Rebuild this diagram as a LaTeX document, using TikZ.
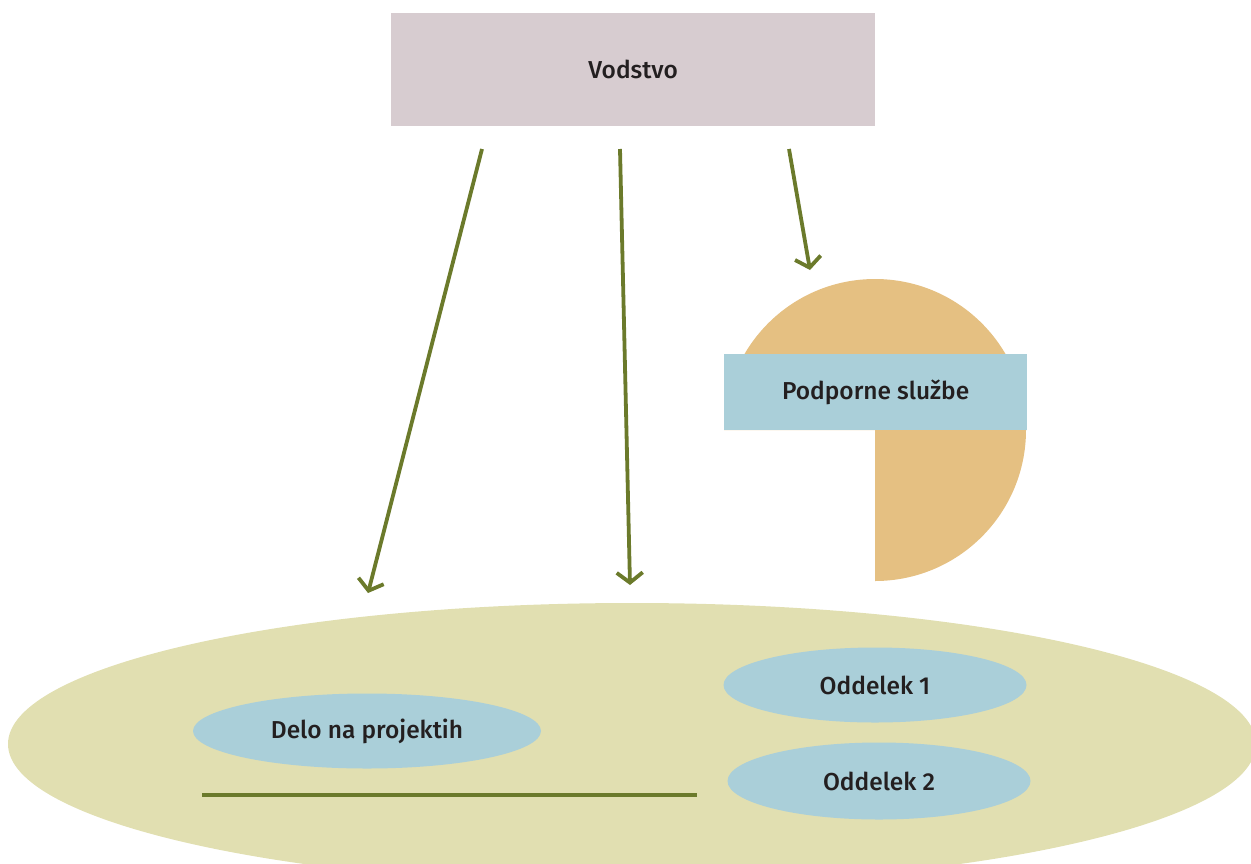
\documentclass[tikz,border=0pt]{standalone}
\usepackage{fontspec}
\setmainfont{Fira Sans}[UprightFont={* Medium}]
\usetikzlibrary{arrows.meta,shapes.geometric}
\definecolor{txt}{HTML}{231F20}
\definecolor{olive}{HTML}{6B7A2B}
\definecolor{vodc}{HTML}{D7CCD0}
\definecolor{bluec}{HTML}{AACFD9}
\definecolor{orangec}{HTML}{E5C082}
\definecolor{basec}{HTML}{E1DFB1}
\tikzset{
  lbl/.style={text=txt, font=\fontsize{24.5}{28}\selectfont},
  box/.style={lbl, fill=#1, inner sep=0pt, anchor=north west},
  oval/.style={lbl, ellipse, fill=bluec, inner sep=0pt},
  link/.style={draw=olive, line width=3.8pt, -{Straight Barb[length=10pt,width=26pt,line width=3.8pt]}},
}
\begin{document}
\begin{tikzpicture}[x=1pt,y=-1pt]
\useasboundingbox (0,0) rectangle (1251,863);
\begin{scope}
\clip (0,0) rectangle (1251,863);
\node[ellipse, fill=basec, minimum width=1248pt, minimum height=282pt, inner sep=0pt] (base) at (632,744) {};
\end{scope}
\node[box=vodc, minimum width=484pt, minimum height=113pt] (vod) at (391,13) {};
\node[lbl] at (vod.center) {Vodstvo};
\fill[orangec] (875,430) -- ++(90:151) arc[start angle=90, end angle=-180, radius=151] -- cycle;
\node[box=bluec, minimum width=303pt, minimum height=76pt] (pod) at (724,354) {};
\node[lbl] at (pod.center) {Podporne službe};
\node[oval, minimum width=348pt, minimum height=75pt] (delo) at (367,731) {Delo na projektih};
\node[oval, minimum width=303pt, minimum height=75pt] (odd1) at (875,685) {Oddelek 1};
\node[oval, minimum width=303pt, minimum height=77pt] (odd2) at (879,781) {Oddelek 2};
\coordinate (line1) at (202,795);
\coordinate (line2) at (697,795);
\draw[olive, line width=3.5pt] (line1) -- (line2);
\coordinate (s1) at (482,149);
\coordinate (e1) at (368,593);
\coordinate (s2) at (620,149);
\coordinate (e2) at (630,585);
\coordinate (s3) at (789,149);
\coordinate (e3) at (810,270);
\draw[link] (s1) -- (e1);
\draw[link] (s2) -- (e2);
\draw[link] (s3) -- (e3);
\end{tikzpicture}
\end{document}
